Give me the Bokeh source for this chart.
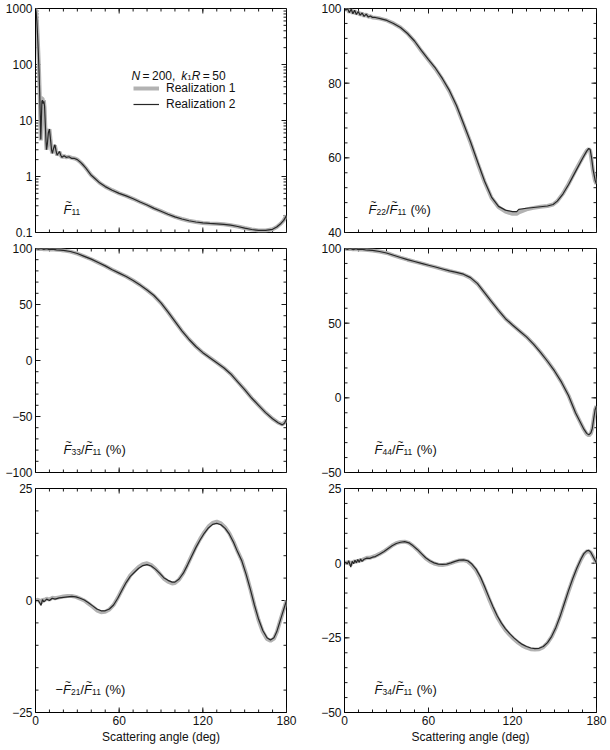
import math
import numpy as np
from bokeh.plotting import figure
from bokeh.layouts import column, row
from bokeh.models import (Range1d, FixedTicker, CustomJSTickFormatter, Label,
                          Legend, LegendItem)
from bokeh.embed import file_html
from bokeh.resources import INLINE

# ---------------- data ----------------
x_major = [0, 60, 120, 180]
x_minor = [0, 10, 20, 30, 40, 50, 60, 70, 80, 90, 100, 110, 120, 130, 140, 150, 160, 170, 180]

f11_ang = [0, 0.5, 1, 1.5, 2, 2.5, 3, 3.4, 3.8, 4.2, 4.6, 5.0, 5.5, 6.0, 6.5, 7.0, 7.5, 7.9,
           8.5, 9.2, 10, 10.8, 11.5, 12.1, 13, 13.9, 14.7, 15.5, 16.4, 17.2, 18.1, 19, 20.5, 22,
           24, 26, 28, 30, 32, 34, 36, 38, 40, 43, 46, 50, 55, 60, 65, 70, 75, 80, 85, 90, 95,
           100, 105, 110, 115, 120, 125, 130, 135, 140, 145, 150, 155, 160, 165, 170, 173, 176,
           178, 180]
f11_r2 = [1000, 850, 580, 330, 170, 80, 32, 12, 4.6, 10, 22, 23, 20, 22, 18, 9, 4.5, 3.0,
          3.8, 6, 7, 4.5, 3.0, 2.6, 3.2, 3.7, 2.9, 2.4, 2.6, 2.8, 2.4, 2.2, 2.35, 2.2,
          2.25, 2.1, 2.1, 2.0, 1.82, 1.62, 1.42, 1.22, 1.05, 0.9, 0.77, 0.66, 0.57, 0.5, 0.45,
          0.4, 0.35, 0.31, 0.27, 0.24, 0.212, 0.19, 0.174, 0.162, 0.154, 0.148, 0.145, 0.143,
          0.14, 0.135, 0.128, 0.12, 0.113, 0.109, 0.109, 0.114, 0.125, 0.145, 0.165, 0.2]
f11_r1 = [1000, 850, 580, 330, 170, 80, 32, 12, 4.4, 12, 25, 25, 21, 23, 17, 8, 4.4, 3.0,
          3.8, 6, 7, 4.5, 3.0, 2.6, 3.2, 3.6, 2.9, 2.4, 2.6, 2.75, 2.4, 2.2, 2.35, 2.2,
          2.25, 2.15, 2.1, 2.0, 1.82, 1.62, 1.42, 1.22, 1.05, 0.9, 0.77, 0.66, 0.57, 0.5, 0.45,
          0.4, 0.35, 0.31, 0.27, 0.24, 0.212, 0.19, 0.174, 0.162, 0.154, 0.148, 0.145, 0.143,
          0.14, 0.135, 0.128, 0.12, 0.113, 0.109, 0.109, 0.114, 0.125, 0.145, 0.165, 0.2]

f22_ang = [0, 1, 2.2, 3.4, 4.8, 6, 7.2, 8.5, 9.8, 11.2, 12.6, 14, 15.5, 17, 18.5, 20, 22, 25.5,
           30.3, 35, 40, 45, 50, 55, 60, 65, 70, 75, 80, 85, 90, 95, 100, 105, 110, 115, 120,
           123, 124.5, 130, 135, 140, 145, 149, 152, 156, 160, 165, 170, 173, 174.5, 175.5,
           176.5, 177.5, 179, 180]
f22_r2 = [100, 99.6, 100, 98.9, 99.8, 98.6, 99.5, 98.4, 99.2, 98.2, 98.8, 97.9, 98.5, 97.7,
          98.0, 97.6, 97.6, 97.3, 96.8, 96.0, 94.9, 93.3, 91.3, 88.7, 86.3, 84.0, 81.2, 78.0,
          74.0, 69.2, 64.3, 59.0, 53.8, 49.5, 47.0, 46.0, 45.6, 45.6, 46.2, 46.5, 46.7, 46.9,
          47.1, 47.5, 48.4, 50.3, 52.8, 56.3, 59.8, 61.8, 62.5, 62.2, 60.0, 57.0, 54.0, 53.0]
f22_r1 = [100, 99.7, 99.9, 99.0, 99.7, 98.7, 99.4, 98.5, 99.1, 98.3, 98.7, 98.0, 98.4, 97.8,
          97.9, 97.6, 97.5, 97.3, 96.8, 96.0, 94.9, 93.3, 91.2, 88.6, 86.2, 83.8, 81.0, 77.8,
          73.8, 69.0, 64.1, 58.7, 53.6, 49.3, 46.8, 45.6, 45.0, 45.0, 45.4, 46.2, 46.6, 46.9,
          47.1, 47.5, 48.4, 50.4, 53.0, 56.6, 60.0, 61.9, 62.4, 61.9, 59.2, 56.5, 53.8, 53.0]

f33_ang = [0, 2, 4, 6, 8, 10, 12, 15, 18, 20, 25, 30, 35, 40, 45, 50, 55, 60, 65, 70, 75, 80,
           85, 90, 95, 100, 105, 110, 115, 120, 125, 130, 135, 140, 145, 150, 155, 160, 165,
           170, 174, 177, 178.5, 180]
f33_r2 = [100, 99.3, 100, 99.2, 99.8, 99.0, 99.4, 98.8, 98.6, 98.3, 97.3, 95.5, 93, 90.5,
          87.5, 84.5, 81, 78, 75, 71.5, 67.5, 63, 58, 51.5, 43.5, 35, 26.5, 19, 12.5, 7, 2.5,
          -2, -6.5, -12, -19, -26, -33.5, -40, -46.5, -52, -55.5, -57.5, -56, -52.5]
f33_r1 = [100, 99.5, 99.8, 99.4, 99.6, 99.2, 99.3, 98.9, 98.6, 98.3, 97.2, 95.4, 93, 90.4,
          87.4, 84.4, 81, 78, 75, 71.4, 67.4, 62.8, 57.8, 51.3, 43.3, 34.8, 26.4, 19, 12.5, 7,
          2.5, -2, -6.5, -12, -19, -26, -33.5, -40, -46.5, -52, -55.5, -57, -55.5, -53]

f44_ang = [0, 2, 4, 6, 8, 10, 12, 15, 20, 25, 30, 35, 40, 45, 50, 55, 60, 65, 70, 75, 80, 85,
           90, 95, 100, 105, 110, 115, 120, 125, 130, 135, 140, 145, 150, 155, 160, 165, 168,
           171, 173, 174.5, 176, 177, 178, 179, 180]
f44_r2 = [100, 99.4, 100, 99.3, 99.8, 99.2, 99.5, 99.1, 98.7, 98, 97, 95.5, 94, 92.6, 91.3,
          90, 88.8, 87.6, 86.3, 85, 84, 82.8, 80.5, 76.5, 70.5, 64.5, 58.5, 53, 48.8, 44.8,
          40.8, 36, 30.5, 24.5, 18, 10.5, 1.5, -10, -15.5, -21, -23.8, -24.8, -23.5, -20.5,
          -14, -8, -5.5]
f44_r1 = [100, 99.6, 99.8, 99.5, 99.6, 99.3, 99.4, 99.1, 98.7, 98, 97, 95.4, 93.9, 92.5,
          91.2, 90, 88.7, 87.5, 86.2, 84.9, 83.8, 82.6, 80.3, 76.3, 70.3, 64.3, 58.4, 53,
          48.8, 44.8, 40.8, 36, 30.5, 24.5, 18, 10.5, 1.5, -10, -15.6, -21.2, -24.2, -25.2,
          -23.8, -20.5, -14, -8, -5.5]

f21_ang = [0, 2, 3, 4, 5, 6, 8, 10, 12, 14, 17, 20, 23, 26, 29, 32, 35, 38, 41, 44, 47, 50,
           53, 56, 59, 62, 65, 68, 71, 74, 77, 80, 83, 86, 89, 92, 95, 98, 100, 103, 106, 109,
           112, 115, 118, 121, 124, 127, 130, 133, 136, 139, 142, 145, 148, 151, 154, 157, 160,
           163, 166, 168.5, 171, 173, 175, 177, 179, 180]
f21_r2 = [0, 0, -0.5, -1.1, 0.2, -0.3, 0.3, 0, 0.5, 0.3, 0.6, 0.7, 0.8, 0.9, 0.8, 0.5, 0.1,
          -0.5, -1.2, -1.9, -2.3, -2.3, -1.9, -1.0, 0.5, 2.3, 4.0, 5.4, 6.3, 7.2, 7.8, 8.0,
          7.7, 7.0, 6.1, 5.1, 4.5, 4.1, 4.1, 4.8, 6.1, 7.9, 9.9, 11.8, 13.5, 15.0, 16.2, 17.0,
          17.2, 16.9, 16.1, 14.8, 13.0, 10.8, 8.8, 5.9, 2.6, -1.0, -4.2, -6.7, -8.3, -8.8,
          -8.3, -7.0, -5.0, -3.0, -1.0, 0]
f21_r1 = [0, 0.2, -0.2, -0.6, 0.3, 0, 0.4, 0.2, 0.6, 0.5, 0.7, 0.9, 1.0, 1.0, 0.8, 0.4, 0.0,
          -0.7, -1.4, -2.2, -2.6, -2.5, -2.0, -1.0, 0.6, 2.4, 4.1, 5.6, 6.6, 7.5, 8.1, 8.3,
          7.9, 7.1, 6.0, 4.9, 4.2, 3.8, 3.9, 4.7, 6.1, 8.0, 10.0, 12.0, 13.7, 15.2, 16.5,
          17.3, 17.6, 17.2, 16.3, 15.0, 13.1, 10.9, 8.9, 6.0, 2.6, -1.1, -4.4, -7.0, -8.6,
          -9.0, -8.5, -7.1, -5.0, -3.0, -1.0, 0]

f34_ang = [0, 1, 2, 3, 4.5, 5.5, 6.5, 7.5, 8.5, 9.5, 10.5, 11.5, 12.5, 14, 16, 18, 20, 22, 25,
           28, 31, 34, 37, 40, 43, 46, 49, 52, 55, 58, 61, 64, 67, 70, 73, 76, 79, 82, 85, 88,
           91, 94, 97, 100, 103, 106, 109, 112, 115, 118, 121, 124, 127, 130, 133, 136, 139,
           142, 145, 148, 151, 154, 157, 160, 163, 166, 169, 171, 173, 174.5, 176, 178, 180]
f34_r2 = [0, 0.3, -0.3, 0.8, -1.3, 0.6, -0.2, 1.0, 0.1, 1.2, 0.3, 1.4, 0.6, 1.3, 1.7, 1.6,
          2.0, 2.2, 3.0, 3.8, 4.8, 5.8, 6.6, 7.0, 7.2, 6.8, 5.8, 4.6, 3.2, 1.8, 0.8, 0.1, -0.3,
          -0.4, -0.3, 0.1, 0.6, 1.0, 1.1, 0.8, -0.3, -2.0, -4.5, -7.7, -11.2, -14.5, -17.5,
          -20.0, -22.0, -23.6, -25.0, -26.2, -27.2, -27.9, -28.4, -28.6, -28.5, -27.9, -26.6,
          -24.5, -21.5, -17.8, -13.5, -9.2, -5.2, -1.6, 1.5, 3.2, 4.1, 4.3, 3.6, 1.8, 0]
f34_r1 = [0, 0.2, 0.1, 0.5, -0.6, 0.5, 0.2, 0.8, 0.4, 1.0, 0.6, 1.2, 0.9, 1.4, 1.8, 1.8,
          2.1, 2.4, 3.1, 3.9, 4.9, 5.9, 6.7, 7.1, 7.2, 6.8, 5.8, 4.5, 3.0, 1.6, 0.6, -0.1,
          -0.5, -0.6, -0.4, 0.0, 0.5, 0.9, 1.0, 0.6, -0.6, -2.4, -5.0, -8.2, -11.7, -15.0,
          -18.0, -20.4, -22.4, -24.0, -25.4, -26.6, -27.6, -28.3, -28.8, -28.9, -28.8, -28.1,
          -26.7, -24.6, -21.6, -17.9, -13.6, -9.4, -5.4, -1.8, 1.3, 3.0, 3.9, 4.0, 3.5, 1.8, 0]

f11_yt = [0.1, 1, 10, 100, 1000]
f11_ym = [m * d for d in [0.1, 1, 10, 100] for m in [2, 3, 4, 5, 6, 7, 8, 9]]
f22_yt = [40, 60, 80, 100]
f22_ym = [40, 44, 48, 52, 56, 60, 64, 68, 72, 76, 80, 84, 88, 92, 96, 100]
f33_yt = [-100, -50, 0, 50, 100]
f33_ym = [-100, -90, -80, -70, -60, -50, -40, -30, -20, -10, 0, 10, 20, 30, 40, 50, 60, 70, 80, 90, 100]
f44_yt = [-50, 0, 50, 100]
f44_ym = [-50, -40, -30, -20, -10, 0, 10, 20, 30, 40, 50, 60, 70, 80, 90, 100]
f21_yt = [-25, 0, 25]
f21_ym = [-25, -20, -15, -10, -5, 0, 5, 10, 15, 20, 25]
f34_yt = [-50, -25, 0, 25]
f34_ym = [-50, -45, -40, -35, -30, -25, -20, -15, -10, -5, 0, 5, 10, 15, 20, 25]

legend_labels = ["Realization 1", "Realization 2"]
x_title = "Scattering angle (deg)"

# ---------------- styling ----------------
FONT = "Liberation Sans"
GRAY = "#b2b2b2"
DARK = "#262626"
TXT = "#111111"
TICKC = "#1a1a1a"
FH = 224
FW_L = 251
FW_R = 252
TICK_MAJ = 5
TICK_MIN = 3

W = {'0': .556, '1': .556, '2': .556, '3': .556, '4': .556, '5': .556, '6': .556,
     '7': .556, '8': .556, '9': .556, 'F': .611, 'N': .722, 'k': .5, 'R': .722,
     '=': .584, '/': .278, ' ': .278, '(': .333, ')': .333, '%': .889, ',': .278,
     '\u2212': .584, '\u2009': .2, '\u2002': .5, '\u00a0': .278}


def tw(s, fs):
    return sum(W.get(c, .556) for c in s) * fs


def math_label(p, x, y, pieces, dx, dy, size=13, sub=8.5):
    cur = dx
    for txt, kind in pieces:
        if kind == "sub":
            fs, yo, style = sub, dy - 2, "normal"
        else:
            fs, yo = size, dy
            style = "italic" if kind in ("it", "F") else "normal"
        p.add_layout(Label(x=x, y=y, x_offset=cur, y_offset=yo, text=txt, text_font=FONT,
                           text_font_size=f"{fs}px", text_font_style=style,
                           text_baseline="alphabetic", text_align="left", text_color=TXT))
        if kind == "F":
            p.add_layout(Label(x=x, y=y, x_offset=cur + 2.0, y_offset=dy + 7.5, text="~",
                               text_font=FONT, text_font_size="10px",
                               text_baseline="alphabetic", text_align="left",
                               text_color=TXT))
        cur += tw(txt, fs)


fmt_code = "return (tick < 0 ? '\\u2212' : '') + String(Math.abs(tick));"


def add_frame_ticks(p, yr, yt, ym, fw, log):
    """Inward ticks on all four frame edges, drawn as one broken line (NaN gaps).
    Tick lengths are converted from pixels to data units of this frame."""
    if log:
        l0, l1 = math.log10(yr[0]), math.log10(yr[1])
        def y_in_bottom(L):
            return 10 ** (l0 + L * (l1 - l0) / FH)
        def y_in_top(L):
            return 10 ** (l1 - L * (l1 - l0) / FH)
    else:
        def y_in_bottom(L):
            return yr[0] + L * (yr[1] - yr[0]) / FH
        def y_in_top(L):
            return yr[1] - L * (yr[1] - yr[0]) / FH
    xpp = 180.0 / fw
    xs, ys = [], []
    for ticks, L in ((x_major, TICK_MAJ), (x_minor, TICK_MIN)):
        for t in ticks:
            xs += [t, t, np.nan, t, t, np.nan]
            ys += [yr[0], y_in_bottom(L), np.nan, yr[1], y_in_top(L), np.nan]
    for ticks, L in ((yt, TICK_MAJ), (ym, TICK_MIN)):
        for t in ticks:
            xs += [0, L * xpp, np.nan, 180, 180 - L * xpp, np.nan]
            ys += [t, t, np.nan, t, t, np.nan]
    p.line(np.array(xs, dtype=float), np.array(ys, dtype=float),
           line_color=TICKC, line_width=1)


def panel(ang, r1, r2, yr, yt, ym, left_col, rowi, log=False):
    bottom = rowi == 2
    fw = FW_L if left_col else FW_R
    kw = {}
    if log:
        kw["y_axis_type"] = "log"
    if not bottom:
        kw["x_axis_location"] = None
    p = figure(frame_width=fw, frame_height=FH,
               x_range=Range1d(0, 180), y_range=Range1d(yr[0], yr[1]),
               output_backend="svg", toolbar_location=None, tools="",
               min_border_left=35 if left_col else 40,
               min_border_right=18 if left_col else 12,
               min_border_top=8,
               min_border_bottom=32 if bottom else 8, **kw)
    p.outline_line_color = "black"
    p.grid.visible = False

    p.yaxis.ticker = FixedTicker(ticks=yt, minor_ticks=ym)
    p.yaxis.formatter = CustomJSTickFormatter(code=fmt_code)
    if bottom:
        p.xaxis.ticker = FixedTicker(ticks=x_major, minor_ticks=x_minor)
        p.xaxis.formatter = CustomJSTickFormatter(code=fmt_code)
        p.xaxis.axis_label = x_title
        p.xaxis.axis_label_text_font = FONT
        p.xaxis.axis_label_text_font_size = "12px"
        p.xaxis.axis_label_text_font_style = "normal"
        p.xaxis.axis_label_text_color = TXT
        p.xaxis.axis_label_standoff = 2
    for a in p.axis:
        a.major_tick_in = 0
        a.major_tick_out = 0
        a.minor_tick_in = 0
        a.minor_tick_out = 0
        a.major_label_standoff = 3
        a.major_label_text_font = FONT
        a.major_label_text_font_size = "12px"
        a.major_label_text_color = TXT

    add_frame_ticks(p, yr, yt, ym, fw, log)

    g = p.line(ang, r1, line_color=GRAY, line_width=4)
    d = p.line(ang, r2, line_color=DARK, line_width=1.2)
    return p, g, d


p11, g11, d11 = panel(f11_ang, f11_r1, f11_r2, (0.1, 1000), f11_yt, f11_ym, True, 0, log=True)
p22, _, _ = panel(f22_ang, f22_r1, f22_r2, (40, 100), f22_yt, f22_ym, False, 0)
p33, _, _ = panel(f33_ang, f33_r1, f33_r2, (-100, 100), f33_yt, f33_ym, True, 1)
p44, _, _ = panel(f44_ang, f44_r1, f44_r2, (-50, 100), f44_yt, f44_ym, False, 1)
p21, _, _ = panel(f21_ang, f21_r1, f21_r2, (-25, 25), f21_yt, f21_ym, True, 2)
p34, _, _ = panel(f34_ang, f34_r1, f34_r2, (-50, 25), f34_yt, f34_ym, False, 2)

# legend
leg = Legend(items=[LegendItem(label=legend_labels[0], renderers=[g11]),
                    LegendItem(label=legend_labels[1], renderers=[d11])],
             location=(98, FH - 104), border_line_color=None, background_fill_alpha=0,
             label_text_font=FONT, label_text_font_size="12px", label_text_color=TXT,
             glyph_width=26, glyph_height=16, label_height=16, label_standoff=7,
             spacing=0, padding=0, margin=0)
p11.add_layout(leg)
math_label(p11, 0, 1000, [("N", "it"), ("\u2009=\u2009200,\u2002", "rm"), ("k", "it"),
                          ("1", "sub"), ("R", "it"), ("\u2009=\u200950", "rm")],
           96, -67, size=12, sub=8)

# panel labels
pct = "\u00a0(%)"
math_label(p11, 0, 0.1, [("F", "F"), ("11", "sub")], 28, 23)
math_label(p22, 0, 40, [("F", "F"), ("22", "sub"), ("/", "rm"), ("F", "F"), ("11", "sub"),
                        (pct, "rm")], 24, 23)
math_label(p33, 0, -100, [("F", "F"), ("33", "sub"), ("/", "rm"), ("F", "F"), ("11", "sub"),
                          (pct, "rm")], 28, 23)
math_label(p44, 0, -50, [("F", "F"), ("44", "sub"), ("/", "rm"), ("F", "F"), ("11", "sub"),
                         (pct, "rm")], 30, 23)
math_label(p21, 0, -25, [("\u2212", "rm"), ("F", "F"), ("21", "sub"), ("/", "rm"), ("F", "F"),
                         ("11", "sub"), (pct, "rm")], 20, 23)
math_label(p34, 0, -50, [("F", "F"), ("34", "sub"), ("/", "rm"), ("F", "F"), ("11", "sub"),
                         (pct, "rm")], 30, 23)

layout = column(row(p11, p22), row(p33, p44), row(p21, p34))
open("out.html", "w").write(file_html(layout, INLINE))
